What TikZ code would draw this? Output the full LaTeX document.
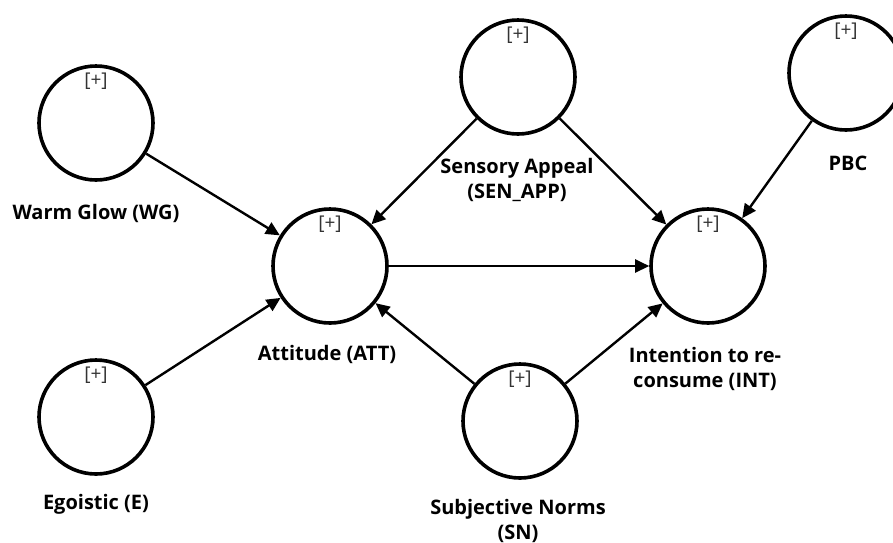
\documentclass[tikz,border=0pt]{standalone}
\usepackage{fontspec}
\setmainfont{Open Sans}
\usetikzlibrary{arrows.meta}
\begin{document}
\begin{tikzpicture}[x=1pt,y=-1pt,
  lv/.style={circle,draw=black,line width=3.6pt,minimum size=114pt,inner sep=0pt,
    label={[anchor=north,yshift=-9pt,inner sep=0pt,text=black!80,font=\fontsize{19}{20}\selectfont]north:{[+]}}},
  lab/.style={font=\bfseries\fontsize{20}{25}\selectfont,align=center,text=black,inner sep=0pt},
  path/.style={line width=2.4pt,-{Triangle[length=14pt,width=13pt]}}]
\useasboundingbox (0,0) rectangle (893,542);
\node[lv] (WG) at (96,123) {};
\node[lv] (E) at (96,417) {};
\node[lv] (ATT) at (330,266) {};
\node[lv] (SEN) at (518,77) {};
\node[lv] (SN) at (520,421) {};
\node[lv] (INT) at (708,266) {};
\node[lv] (PBC) at (846,73) {};
\node[lab] (lWG) at (96,213) {Warm Glow (WG)};
\node[lab] (lE) at (96,504) {Egoistic (E)};
\node[lab] (lATT) at (327,354) {Attitude (ATT)};
\node[lab] (lSEN) at (517,180) {Sensory Appeal\\(SEN\_APP)};
\node[lab] (lINT) at (705,369) {Intention to re-\\consume (INT)};
\node[lab] (lSN) at (518,521) {Subjective Norms\\(SN)};
\node[lab] (lPBC) at (848,163) {PBC};
\draw[path] (WG) -- (ATT);
\draw[path] (E) -- (ATT);
\draw[path] (SEN) -- (ATT);
\draw[path] (SN) -- (ATT);
\draw[path] (ATT) -- (INT);
\draw[path] (SEN) -- (INT);
\draw[path] (PBC) -- (INT);
\draw[path] (SN) -- (INT);
\end{tikzpicture}
\end{document}
